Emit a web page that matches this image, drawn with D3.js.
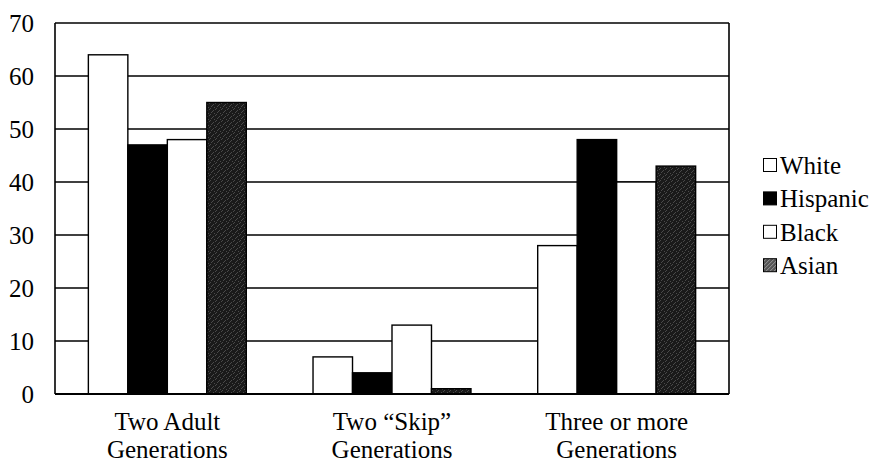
<!DOCTYPE html>
<html><head><meta charset="utf-8">
<script src="https://cdn.jsdelivr.net/npm/d3@7"></script>
<style>body{margin:0;background:#fff}svg{display:block}text{font-family:"Liberation Serif","Times New Roman","DejaVu Serif",serif;fill:#000}</style>
</head><body><svg id="c" width="875" height="464"></svg>
<script>
const categories = [["Two Adult","Generations"],["Two \u201cSkip\u201d","Generations"],["Three or more","Generations"]];
const seriesNames = ["White","Hispanic","Black","Asian"];
const white = [64, 7, 28];
const hispanic = [47, 4, 48];
const black = [48, 13, 40];
const asian = [55, 1, 43];
const yTicks = [0,10,20,30,40,50,60,70];
const seriesValues = [white, hispanic, black, asian];

const svg = d3.select("#c");
const defs = svg.append("defs");
const pat = defs.append("pattern").attr("id","stip").attr("width",6).attr("height",6).attr("patternUnits","userSpaceOnUse");
pat.append("rect").attr("width",6).attr("height",6).attr("fill","#1a1a1a");
[[0,0],[3,2],[1,4],[4,5],[5,1],[2,3]].forEach(([x,y])=>pat.append("rect").attr("x",x).attr("y",y).attr("width",1).attr("height",1).attr("fill","#4a4a4a"));
const pat2 = defs.append("pattern").attr("id","stipL").attr("width",4).attr("height",4).attr("patternUnits","userSpaceOnUse");
pat2.append("rect").attr("width",4).attr("height",4).attr("fill","#555");
[[0,0],[2,2],[1,3],[3,1]].forEach(([x,y])=>pat2.append("rect").attr("x",x).attr("y",y).attr("width",1).attr("height",1).attr("fill","#9a9a9a"));

const fills = ["#fff","#000","#fff","url(#stip)"];
const legendFills = ["#fff","#000","#fff","url(#stipL)"];

const L=55, R=729, T=23, B=394;
const x0 = d3.scaleBand().domain(d3.range(categories.length)).range([L,R]).paddingInner(0.297).paddingOuter(0.1485);
const x1 = d3.scaleBand().domain(d3.range(seriesNames.length)).range([0,x0.bandwidth()]);
const y = d3.scaleLinear().domain([0,70]).range([B,T]);

svg.append("g").selectAll("line").data(yTicks).join("line")
  .attr("x1",L).attr("x2",R).attr("y1",d=>y(d)).attr("y2",d=>y(d))
  .attr("stroke","#000").attr("stroke-width",1.4);

const g = svg.append("g");
seriesValues.forEach((vals,si)=>{
  g.append("g").selectAll("rect").data(vals).join("rect")
    .attr("x",(d,i)=>x0(i)+x1(si))
    .attr("y",d=>y(d))
    .attr("width",x1.bandwidth())
    .attr("height",d=>B-y(d))
    .attr("fill",fills[si])
    .attr("stroke","#000").attr("stroke-width",1.4);
});

svg.append("line").attr("x1",L).attr("x2",L).attr("y1",T).attr("y2",B).attr("stroke","#000").attr("stroke-width",1.6);
svg.append("line").attr("x1",R).attr("x2",R).attr("y1",T).attr("y2",B).attr("stroke","#000").attr("stroke-width",1.6);
svg.append("line").attr("x1",L).attr("x2",R).attr("y1",B).attr("y2",B).attr("stroke","#000").attr("stroke-width",1.8);

const yAxis = d3.axisLeft(y).tickValues(yTicks).tickSize(0).tickPadding(0);
const ya = svg.append("g").attr("transform",`translate(${L-21},0)`).call(yAxis);
ya.select(".domain").remove();
ya.selectAll("text").attr("font-size",25).attr("font-family","'Liberation Serif','Times New Roman',serif").attr("fill","#000").attr("dy","0.35em");

const cl = svg.append("g").selectAll("text").data(categories).join("text")
  .attr("x",(d,i)=>x0(i)+x0.bandwidth()/2).attr("text-anchor","middle").attr("font-size",25);
cl.selectAll("tspan").data(d=>d).join("tspan")
  .attr("x",function(){return d3.select(this.parentNode).attr("x");})
  .attr("y",(d,i)=>430+i*28).text(d=>d);

const lg = svg.append("g").selectAll("g").data(seriesNames).join("g")
  .attr("transform",(d,i)=>`translate(763,${165+i*33.4})`);
lg.append("rect").attr("x",0.5).attr("y",-6.5).attr("width",13).attr("height",13)
  .attr("fill",(d,i)=>legendFills[i]).attr("stroke","#000").attr("stroke-width",1);
lg.append("text").attr("x",17).attr("dy","0.35em").attr("font-size",25).text(d=>d);
</script></body></html>
